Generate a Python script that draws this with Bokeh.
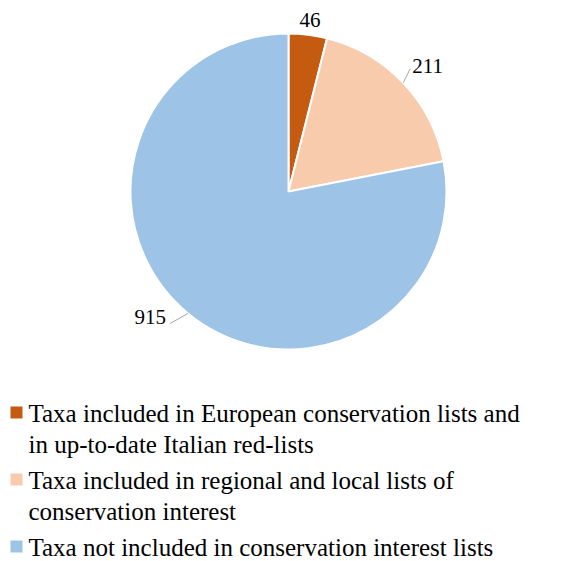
import numpy as np
from bokeh.plotting import figure
from bokeh.models import Range1d, ColumnDataSource
from bokeh.embed import file_html
from bokeh.resources import INLINE
from bokeh.core.properties import value

# ---- data ----
categories = [
    "Taxa included in European conservation lists and\nin up-to-date Italian red-lists",
    "Taxa included in regional and local lists of\nconservation interest",
    "Taxa not included in conservation interest lists",
]
counts = [46, 211, 915]
colors = ["#C55A11", "#F8CBAD", "#9DC3E6"]

# ---- layout / style ----
W, H = 577, 561
CX, CY, R = 288, H - 191, 158
FONT = value("Liberation Serif")
leader = [(0, 0), (7, 14), (-18, -10)]
text_off = [(2, 15), (2, 3), (-4, 6)]
text_align = ["center", "left", "right"]
LEG_X, LEG_Y0, LEG_ENTRY, LEG_LINE = 28, H - 421, 67, 31
BASE_FIX = 8  # compensate svg baseline offset

p = figure(width=W, height=H, x_range=Range1d(0, W), y_range=Range1d(0, H),
           output_backend="svg", toolbar_location=None, min_border=0,
           x_axis_type=None, y_axis_type=None)
p.grid.visible = False
p.outline_line_color = None
p.background_fill_color = "white"

vals = np.array(counts, dtype=float)
frac = vals / vals.sum()
cum = np.concatenate([[0], np.cumsum(frac)])
start = np.pi / 2 - 2 * np.pi * cum[:-1]
end = np.pi / 2 - 2 * np.pi * cum[1:]

src = ColumnDataSource(dict(start=start, end=end, color=colors))
p.wedge(x=CX, y=CY, radius=R, start_angle="start", end_angle="end",
        direction="clock", fill_color="color", line_color="white",
        line_width=2, source=src)

# labels with leader lines
mid = np.pi / 2 - 2 * np.pi * (cum[:-1] + frac / 2)
for i, c in enumerate(counts):
    sx = CX + R * np.cos(mid[i])
    sy = CY + R * np.sin(mid[i])
    ex, ey = sx + leader[i][0], sy + leader[i][1]
    if leader[i] != (0, 0):
        p.line([sx, ex], [sy, ey], line_color="#A6A6A6", line_width=1)
    p.text(x=[ex + text_off[i][0]], y=[ey + text_off[i][1]], text=[str(c)],
           text_font=FONT, text_font_size="21px", text_color="black",
           text_align=text_align[i], text_baseline="middle")

# legend
for i, lab in enumerate(categories):
    y0 = LEG_Y0 - i * LEG_ENTRY
    p.scatter(x=[16], y=[y0 + 9], marker="square", size=12,
              fill_color=colors[i], line_color=None)
    for j, line in enumerate(lab.split("\n")):
        p.text(x=[LEG_X], y=[y0 - j * LEG_LINE + BASE_FIX], text=[line],
               text_font=FONT, text_font_size="25px", text_color="black",
               text_align="left", text_baseline="alphabetic")

open("out.html", "w").write(file_html(p, INLINE))
